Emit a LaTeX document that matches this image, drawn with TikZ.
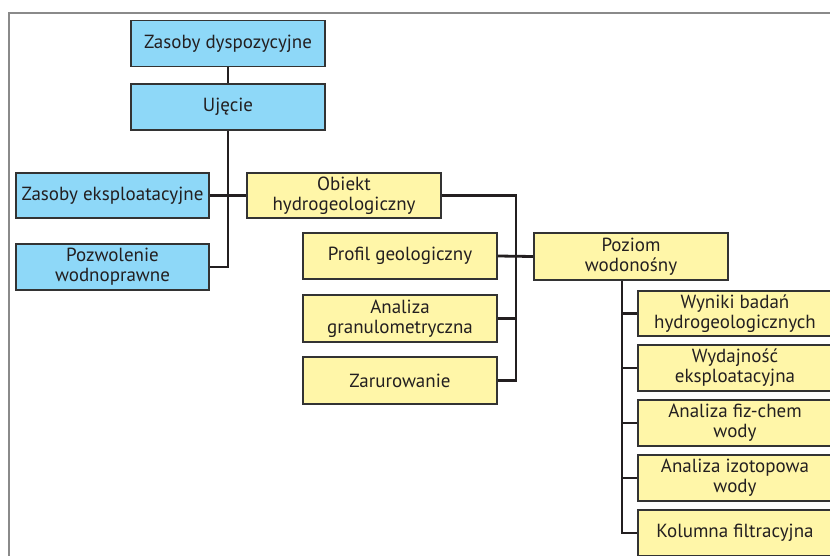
\documentclass[tikz,border=0pt]{standalone}
\usepackage{fontspec}
\setmainfont{PT Sans}
\definecolor{bluebox}{HTML}{8ED8F8}
\definecolor{yellowbox}{HTML}{FFF6A8}
\definecolor{boxline}{HTML}{333333}
\definecolor{framegray}{HTML}{8A8A8A}
\definecolor{txt}{HTML}{231F20}
\begin{document}
\begin{tikzpicture}[x=1pt,y=-1pt,
  box/.style={draw=boxline,line width=1.8pt,rectangle,minimum width=194pt,minimum height=46pt,inner sep=0pt,align=center,font=\fontsize{19}{20}\selectfont,text=txt},
  bbox/.style={box,fill=bluebox},
  ybox/.style={box,fill=yellowbox},
  conn/.style={line width=2.8pt,draw=txt}]
\useasboundingbox (0,0) rectangle (830,555);
\clip (0,0) rectangle (830,555);
\draw[framegray,line width=1.5pt] (9,560) -- (9,13) -- (840,13);
\node[bbox] (zd) at (228,43.5) {Zasoby dyspozycyjne};
\node[bbox] (uj) at (228,107) {Ujęcie};
\node[bbox,minimum width=193pt,minimum height=45pt] (ze) at (112.5,195.5) {Zasoby eksploatacyjne};
\node[bbox,minimum width=193pt] (pw) at (112.5,267) {Pozwolenie\\wodnoprawne};
\node[ybox,minimum height=45pt] (oh) at (344,195.5) {Obiekt\\hydrogeologiczny};
\node[ybox] (pg) at (400,256) {Profil geologiczny};
\node[ybox,minimum height=47pt] (ag) at (400,318.5) {Analiza\\granulometryczna};
\node[ybox,minimum height=47pt] (za) at (400,380.5) {Zarurowanie};
\node[ybox,minimum height=47pt] (pz) at (631,256.5) {Poziom\\wodonośny};
\node[ybox,minimum height=45pt] (wb) at (735,313.5) {Wyniki badań\\hydrogeologicznych};
\node[ybox] (wy) at (735,368) {Wydajność\\eksploatacyjna};
\node[ybox] (af) at (735,423) {Analiza fiz-chem\\wody};
\node[ybox] (ai) at (735,478) {Analiza izotopowa\\wody};
\node[ybox] (kf) at (735,533) {Kolumna filtracyjna};
\coordinate (bx) at (516,0);
\coordinate (by) at (622,0);
\draw[conn] (zd.south) -- (uj.north);
\draw[conn] (uj.south) |- (pw.east);
\draw[conn] (ze.east) -- (oh.west);
\draw[conn] (oh.east) -| (bx |- za.east) -- (za.east);
\draw[conn] (pg.east) -- (pz.west);
\draw[conn] (ag.east) -- (bx |- ag.east);
\draw[conn] (by |- pz.south) |- (kf.west);
\draw[conn] (wb.west) -- (by |- wb.west);
\draw[conn] (wy.west) -- (by |- wy.west);
\draw[conn] (af.west) -- (by |- af.west);
\draw[conn] (ai.west) -- (by |- ai.west);
\end{tikzpicture}
\end{document}
